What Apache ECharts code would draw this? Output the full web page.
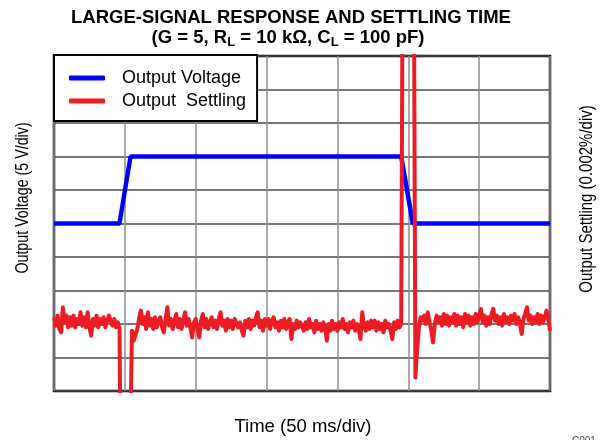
<!DOCTYPE html>
<html>
<head>
<meta charset="utf-8">
<style>
  html, body { margin: 0; padding: 0; background: #fff; }
  #chart { width: 600px; height: 440px; }
</style>
<script src="https://cdn.jsdelivr.net/npm/echarts@6/dist/echarts.min.js"></script>
</head>
<body>
<div id="chart"></div>
<script>
// Time axis: 7 divisions of 50 ms
const TIME_MIN = 0;
const TIME_MAX = 350;
const TIME_STEP = 50;

// Output voltage (V): low/high step and return
const voltageTimes = [0, 46.2, 54, 245, 253.2, 350];
const voltageValues = [0, 0, 10, 10, 0, 0];

// Output settling (ppm of final value, 20 ppm = 0.002 %), sampled every 1.25 ms
const SAMPLE_MS = 1.25;
const settlingPpm = [
  -56, -61, -55, -63, -65, -50, -59, -55, -62, -56, -61, -55, -62, -57, -60, -53, -61, -56, -62, -53,
  -62, -67, -57, -61, -55, -62, -57, -60, -56, -62, -58, -55, -54, -61, -57, -62, -59, -63, -200, -200,
  -200, -200, -200, -200, -64, -70, -71, -63, -57, -52, -60, -56, -63, -53, -61, -57, -63, -56, -62, -58,
  -56, -62, -65, -57, -50, -61, -57, -63, -58, -54, -62, -57, -63, -58, -53, -61, -57, -62, -68, -59,
  -57, -63, -68, -58, -54, -62, -57, -63, -59, -56, -62, -58, -63, -57, -53, -61, -58, -64, -57, -62,
  -58, -63, -57, -56, -62, -59, -64, -67, -58, -62, -57, -63, -58, -61, -56, -53, -62, -58, -64, -57,
  -61, -57, -63, -58, -56, -62, -59, -64, -58, -62, -57, -63, -59, -57, -69, -60, -63, -58, -62, -59,
  -58, -64, -59, -63, -57, -62, -60, -65, -58, -63, -60, -64, -59, -62, -70, -60, -64, -58, -63, -60,
  -64, -59, -62, -57, -63, -60, -65, -59, -62, -58, -64, -60, -63, -69, -53, -61, -64, -59, -63, -58,
  -62, -58, -64, -59, -63, -60, -65, -58, -62, -60, -64, -69, -59, -63, -58, -62, -60, 200, 200, 200,
  200, 200, 200, 200, -92, -75, -62, -56, -58, -55, -60, -53, -59, -64, -71, -60, -55, -59, -56, -61,
  -54, -60, -55, -61, -56, -59, -54, -61, -55, -60, -56, -62, -54, -59, -55, -61, -56, -60, -54, -59,
  -55, -51, -59, -55, -61, -56, -60, -54, -51, -58, -55, -60, -56, -61, -54, -59, -56, -60, -55, -58,
  -54, -60, -56, -59, -66, -57, -54, -50, -58, -55, -60, -56, -59, -54, -60, -55, -59, -56, -52, -57,
  -64
];

// Axis scales (no tick labels are drawn, only the division grid)
const VOLT_MIN = -25, VOLT_MAX = 25, VOLT_STEP = 5;     // 5 V/div
const PPM_MIN = -100, PPM_MAX = 100, PPM_STEP = 20;      // 0.002 %/div

const seriesNames = ['Output Voltage', 'Output  Settling'];
const FONT = '"Liberation Sans", Arial, Helvetica, sans-serif';

const voltageData = voltageTimes.map((t, i) => [t, voltageValues[i]]);
const settlingData = settlingPpm.map((v, i) => [i * SAMPLE_MS, v]);

const chart = echarts.init(document.getElementById('chart'), null, { renderer: 'canvas' });

chart.setOption({
  animation: false,
  backgroundColor: '#fff',
  grid: {
    left: 54, top: 56, right: 50, bottom: 49,
    show: true,
    borderColor: '#000',
    borderWidth: 2.5,
    backgroundColor: 'transparent'
  },
  legend: {
    orient: 'vertical',
    left: 54, top: 55,
    backgroundColor: '#fff',
    borderColor: '#000',
    borderWidth: 2,
    padding: [14, 11, 11, 15],
    itemWidth: 36,
    itemHeight: 5,
    itemGap: 5,
    icon: 'roundRect',
    textStyle: { fontSize: 18, color: '#000', fontFamily: FONT, padding: [0, 0, 0, 12] },
    data: seriesNames,
    z: 10
  },
  xAxis: {
    type: 'value',
    min: TIME_MIN, max: TIME_MAX, interval: TIME_STEP,
    axisLine: { show: false },
    axisTick: { show: false },
    axisLabel: { show: false },
    splitLine: { show: true, lineStyle: { color: '#8c8c8c', width: 1.5 } }
  },
  yAxis: [
    {
      type: 'value',
      min: VOLT_MIN, max: VOLT_MAX, interval: VOLT_STEP,
      axisLine: { show: false },
      axisTick: { show: false },
      axisLabel: { show: false },
      splitLine: { show: true, lineStyle: { color: '#4a4a4a', width: 1.5 } }
    },
    {
      type: 'value',
      position: 'right',
      min: PPM_MIN, max: PPM_MAX, interval: PPM_STEP,
      axisLine: { show: false },
      axisTick: { show: false },
      axisLabel: { show: false },
      splitLine: { show: false }
    }
  ],
  series: [
    {
      name: seriesNames[0],
      type: 'line',
      yAxisIndex: 0,
      data: voltageData,
      showSymbol: false,
      symbol: 'none',
      lineStyle: { color: '#0000ff', width: 4.5 },
      itemStyle: { color: '#0000ff' },
      clip: true,
      z: 3
    },
    {
      name: seriesNames[1],
      type: 'line',
      yAxisIndex: 1,
      data: settlingData,
      showSymbol: false,
      symbol: 'none',
      lineStyle: { color: '#ed1c24', width: 4, join: 'round' },
      itemStyle: { color: '#ed1c24' },
      clip: true,
      z: 4
    }
  ],
  graphic: [
    {
      type: 'text', x: 291, y: 18,
      style: {
        text: 'LARGE-SIGNAL RESPONSE AND SETTLING TIME',
        font: 'bold 18.5px ' + FONT, fill: '#000',
        align: 'center', verticalAlign: 'middle'
      }
    },
    {
      type: 'text', x: 288, y: 27,
      style: {
        text: '{a|(G = 5, R}{b|L}{a| = 10 k\u03A9, C}{b|L}{a| = 100 pF)}',
        align: 'center', verticalAlign: 'top',
        rich: {
          a: { fontSize: 18.5, fontWeight: 'bold', fontFamily: FONT, fill: '#000', color: '#000', lineHeight: 22 },
          b: { fontSize: 13, fontWeight: 'bold', fontFamily: FONT, fill: '#000', color: '#000', lineHeight: 10, verticalAlign: 'bottom' }
        }
      }
    },
    {
      type: 'text', x: 22.5, y: 198, rotation: Math.PI / 2, scaleX: 0.77,
      style: {
        text: 'Output Voltage (5 V/div)',
        font: '18.5px ' + FONT, fill: '#000',
        align: 'center', verticalAlign: 'middle'
      }
    },
    {
      type: 'text', x: 586.5, y: 199, rotation: Math.PI / 2, scaleX: 0.81,
      style: {
        text: 'Output Settling (0.002%/div)',
        font: '18.5px ' + FONT, fill: '#000',
        align: 'center', verticalAlign: 'middle'
      }
    },
    {
      type: 'text', x: 303, y: 427,
      style: {
        text: 'Time (50 ms/div)',
        font: '18.5px ' + FONT, fill: '#000',
        align: 'center', verticalAlign: 'middle'
      }
    },
    {
      type: 'text', x: 572, y: 436,
      style: {
        text: 'C001',
        font: '10px ' + FONT, fill: '#444',
        align: 'left', verticalAlign: 'top'
      }
    }
  ]
});
</script>
</body>
</html>
